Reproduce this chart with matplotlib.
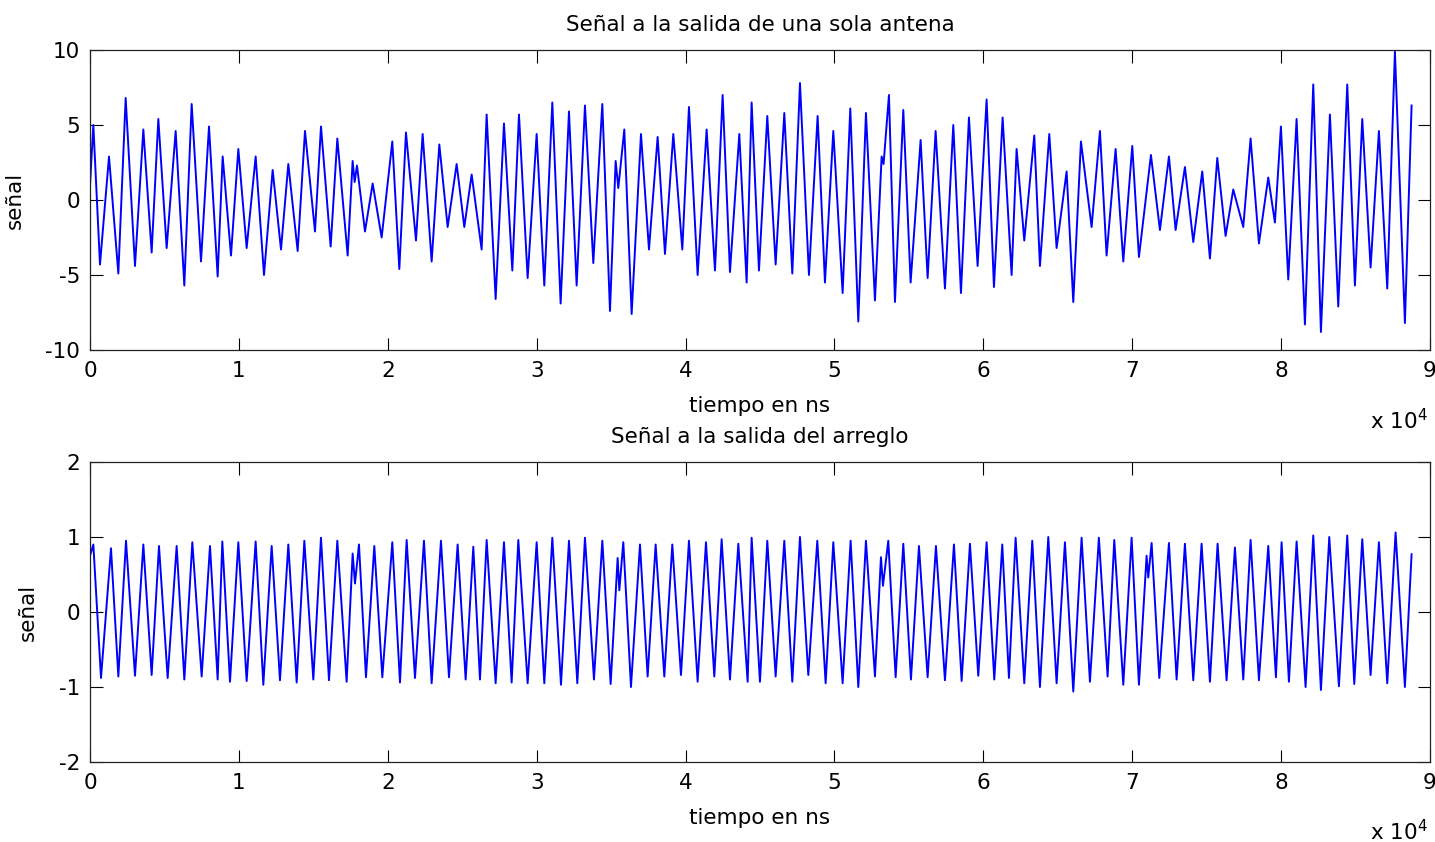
import numpy as np
import matplotlib
matplotlib.use('Agg')
import matplotlib.pyplot as plt
from matplotlib.ticker import FuncFormatter

# ---- data: extremes of the signals (time in ns) ----
top_t = [0, 224, 671, 1276, 1903, 2395, 3022, 3582, 4141, 4589, 5149, 5753, 6335, 6828, 7455,
         7992, 8574, 8910, 9470, 9962, 10522, 11126, 11686, 12268, 12828, 13320, 13947, 14439,
         15111, 15514, 16163, 16611, 17305, 17640, 17775, 17931, 18469, 18984, 19588, 20304,
         20775, 21222, 21894, 22342, 22946, 23461, 24021, 24625, 25140, 25633, 26304, 26640,
         27244, 27804, 28364, 28811, 29394,
         29999, 30513, 31051, 31610, 32170, 32685, 33245, 33804, 34409, 34924, 35304, 35483,
         35886, 36379, 37006, 37543, 38125, 38618, 39177, 39782, 40229, 40811, 41416, 41976,
         42490, 42983, 43610, 44102,
         44438, 44930, 45490, 46050, 46632, 47169, 47684, 48288, 48870, 49363, 49923, 50549,
         51064, 51602, 52116, 52721, 53169, 53300, 53661, 54064, 54624, 55116, 55788, 56258,
         56795, 57422, 57982, 58497, 59034,
         59616, 60220, 60713, 61295, 61899, 62235, 62750, 63421, 63802, 64429, 64921, 65593,
         66041, 66556, 67272, 67832, 68279, 68884, 69399, 70003, 70451, 71257, 71861, 72466,
         72914, 73540,
         74100, 74704, 75219, 75712, 76271, 76786, 77458, 77950, 78510, 79137, 79584, 79987,
         80480, 81040, 81599, 82159, 82674, 83278, 83838, 84442, 84957, 85450, 86010, 86569,
         87129, 87644, 88315, 88763]
top_v = [1.0, 5.0, -4.3, 2.9, -4.9, 6.8, -4.4, 4.7, -3.5, 5.4, -3.2, 4.6, -5.7, 6.4, -4.1,
         4.9, -5.1, 2.9, -3.7, 3.4, -3.2, 2.9, -5.0, 2.0, -3.3, 2.4, -3.4, 4.6,
         -2.1, 4.9, -3.1, 4.1, -3.7, 2.6, 1.2, 2.3, -2.1, 1.1, -2.5, 3.9,
         -4.6, 4.5, -2.7, 4.4, -4.1, 3.7, -1.8, 2.4, -1.8, 1.7, -3.3, 5.7,
         -6.6, 5.1, -4.7, 5.7, -5.2,
         4.4, -5.7, 6.5, -6.9, 5.9, -5.7, 6.3, -4.2, 6.4, -7.4, 2.6, 0.8,
         4.7, -7.6, 4.4, -3.3, 4.2, -3.6, 4.4, -3.3, 6.2, -5.0, 4.7, -4.7,
         7.0, -4.8, 4.4, -5.5,
         6.5, -4.7, 5.6, -4.3, 5.8, -4.9, 7.8, -5.0, 5.6, -5.5, 4.6, -6.2,
         6.1, -8.1, 5.8, -6.7, 2.9, 2.4, 7.0, -6.8, 6.0, -5.5, 4.0, -5.2,
         4.6, -5.9, 5.0, -6.2, 5.5,
         -4.4, 6.7, -5.8, 5.5, -5.0, 3.4, -2.7, 4.3, -4.4, 4.4, -3.2, 1.9,
         -6.8, 3.9, -1.8, 4.6, -3.7, 3.4, -4.1, 3.6, -3.8, 3.0, -2.0, 2.9,
         -2.0, 2.2,
         -2.8, 1.9, -3.9, 2.8, -2.4, 0.7, -1.8, 4.1, -2.9, 1.5, -1.5, 4.9,
         -5.3, 5.4, -8.3, 7.7, -8.8, 5.7, -7.1, 7.7, -5.7, 5.4, -4.5, 4.6,
         -5.9, 9.9, -8.2, 6.3]

bot_t = [0, 224, 739, 1410, 1903, 2418, 3022, 3582, 4141, 4634, 5216, 5820, 6335, 6873, 7499,
         8059, 8574, 8887, 9402, 9962, 10522, 11126, 11641, 12201, 12760, 13320, 13880, 14395,
         14999, 15514, 16051, 16611, 17237, 17640, 17797, 18066, 18536, 19095, 19633, 20304,
         20819, 21267, 21827, 22431, 22946, 23573, 24110, 24692, 25230, 25744, 26192, 26640,
         27244, 27804, 28319, 28767, 29394,
         29999, 30513, 31051, 31633, 32170, 32730, 33245, 33849, 34409, 34969, 35439, 35551,
         35819, 36334, 36939, 37453, 37991, 38573, 39110, 39692, 40229, 40811, 41371, 41931,
         42423, 42983, 43543, 44170,
         44438, 44997, 45490, 46050, 46632, 47169, 47684, 48244, 48848, 49408, 49923, 50549,
         51087, 51602, 52116, 52721, 53124, 53258, 53616, 54109, 54624, 55139, 55676, 56258,
         56818, 57422, 58027, 58542,
         59101, 59660, 60220, 60735, 61272, 61720, 62168, 62750, 63287, 63802, 64362, 64921,
         65481, 66041, 66600, 67160, 67761, 68347, 68794, 69399, 69959, 70451, 70966, 71078,
         71302, 71817, 72466, 72981, 73540,
         74100, 74659, 75219, 75734, 76338, 76898, 77458, 77950, 78510, 79137, 79652, 80032,
         80525, 81040, 81644, 82159, 82674, 83234, 83883, 84442, 84913, 85450, 86010, 86569,
         87129, 87689, 88315, 88763]
bot_v = [0.75, 0.9, -0.88, 0.85, -0.86, 0.95, -0.85, 0.9, -0.84, 0.88, -0.88, 0.88, -0.9, 0.93, -0.86,
         0.88, -0.9, 0.94, -0.93, 0.93, -0.92, 0.94, -0.97, 0.88, -0.91, 0.9, -0.94, 0.95,
         -0.9, 0.99, -0.91, 0.95, -0.93, 0.78, 0.38, 0.9, -0.87, 0.88, -0.87, 0.93,
         -0.94, 0.96, -0.88, 0.95, -0.95, 0.95, -0.87, 0.9, -0.9, 0.87, -0.9, 0.96,
         -0.95, 0.93, -0.94, 0.96, -0.95,
         0.93, -0.95, 0.99, -0.97, 0.95, -0.95, 0.99, -0.9, 0.95, -0.96, 0.72, 0.29,
         0.93, -1.0, 0.9, -0.86, 0.9, -0.86, 0.9, -0.84, 0.95, -0.93, 0.93, -0.86,
         0.97, -0.9, 0.91, -0.93,
         0.99, -0.93, 0.95, -0.86, 0.95, -0.93, 1.0, -0.84, 0.95, -0.95, 0.93, -0.95,
         0.95, -1.0, 0.95, -0.86, 0.73, 0.35, 0.95, -0.87, 0.91, -0.9, 0.88, -0.87,
         0.88, -0.91, 0.9, -0.92,
         0.91, -0.85, 0.93, -0.9, 0.9, -0.88, 0.99, -0.95, 0.95, -1.0, 1.0, -0.95,
         0.93, -1.06, 0.99, -0.93, 0.99, -0.86, 0.96, -0.97, 0.99, -0.97, 0.75, 0.46,
         0.92, -0.88, 0.92, -0.9, 0.91,
         -0.91, 0.91, -0.93, 0.91, -0.91, 0.86, -0.9, 0.96, -0.91, 0.88, -0.87, 0.93,
         -0.93, 0.94, -1.0, 1.02, -1.04, 1.0, -0.99, 1.02, -0.96, 0.97, -0.84, 0.93,
         -0.95, 1.06, -1.0, 0.77]

x_ticks = [0, 10000, 20000, 30000, 40000, 50000, 60000, 70000, 80000, 90000]
top_yticks = [-10, -5, 0, 5, 10]
bot_yticks = [-2, -1, 0, 1, 2]

titles = ['Señal a la salida de una sola antena', 'Señal a la salida del arreglo']
xlabel = 'tiempo en ns'
ylabel = 'señal'

# ---- figure ----
plt.rcParams['font.family'] = ['DejaVu Sans']
W, H = 1435, 842
fig = plt.figure(figsize=(W / 100, H / 100), dpi=100)


def px_axes(left, top, right, bottom):
    return fig.add_axes([left / W, 1 - bottom / H, (right - left) / W, (bottom - top) / H])


FS = 15.5
ax1 = px_axes(90, 50, 1430, 350)
ax2 = px_axes(90, 462, 1430, 762)

for ax, t, v, yt, title, ylx in [(ax1, top_t, top_v, top_yticks, titles[0], (25 - 90) / 1340),
                                 (ax2, bot_t, bot_v, bot_yticks, titles[1], (38 - 90) / 1340)]:
    ax.plot(t, v, color='#0000ff', lw=1.4)
    ax.set_xlim(0, 90000)
    ax.set_ylim(yt[0], yt[-1])
    ax.set_xticks(x_ticks)
    ax.set_yticks(yt)
    ax.xaxis.set_major_formatter(FuncFormatter(lambda val, pos: f'{val / 1e4:g}'))
    ax.yaxis.set_major_formatter(FuncFormatter(lambda val, pos: f'{val:g}'))
    ax.tick_params(direction='in', top=True, right=True, length=9, width=0.8,
                   labelsize=FS, colors='#000000')
    ax.tick_params(axis='x', pad=8)
    ax.tick_params(axis='y', pad=7)
    for s in ax.spines.values():
        s.set_linewidth(0.9)
        s.set_color('#222222')
    ax.set_title(title, fontsize=FS, pad=14)
    ax.set_xlabel(xlabel, fontsize=FS, labelpad=11)
    ax.set_ylabel(ylabel, fontsize=FS)
    ax.yaxis.set_label_coords(ylx, 0.5)

fig.text(1370 / W, 1 - 421 / H, r'x 10$^{4}$', fontsize=FS, ha='left', va='center')
fig.text(1370 / W, 1 - 832 / H, r'x 10$^{4}$', fontsize=FS, ha='left', va='center')

fig.savefig('out.png', dpi=100, facecolor='white')
